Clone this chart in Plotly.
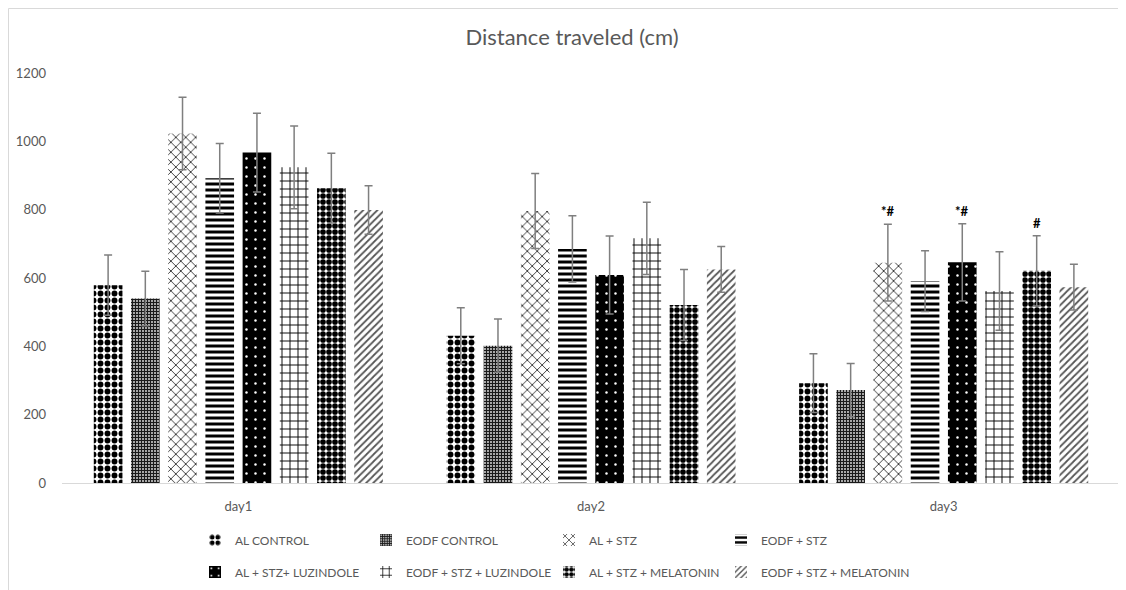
import plotly.graph_objects as go

days = ["day1", "day2", "day3"]
groups = ["AL CONTROL", "EODF CONTROL", "AL + STZ", "EODF + STZ",
          "AL + STZ+ LUZINDOLE", "EODF + STZ + LUZINDOLE",
          "AL + STZ + MELATONIN", "EODF + STZ + MELATONIN"]

al_control = [579, 431, 292]
eodf_control = [540, 402, 272]
al_stz = [1023, 796, 645]
eodf_stz = [892, 685, 591]
al_stz_luz = [967, 609, 646]
eodf_stz_luz = [924, 716, 562]
al_stz_mel = [863, 521, 621]
eodf_stz_mel = [799, 625, 573]

sd_al_control = [88, 82, 86]
sd_eodf_control = [80, 78, 78]
sd_al_stz = [106, 110, 112]
sd_eodf_stz = [102, 97, 89]
sd_al_stz_luz = [115, 114, 113]
sd_eodf_stz_luz = [121, 106, 115]
sd_al_stz_mel = [102, 104, 103]
sd_eodf_stz_mel = [71, 67, 67]

sig_marks = ["", "", "*#", "", "*#", "", "#", ""]  # day3 only

means = [al_control, eodf_control, al_stz, eodf_stz,
         al_stz_luz, eodf_stz_luz, al_stz_mel, eodf_stz_mel]
sds = [sd_al_control, sd_eodf_control, sd_al_stz, sd_eodf_stz,
       sd_al_stz_luz, sd_eodf_stz_luz, sd_al_stz_mel, sd_eodf_stz_mel]

patterns = [
    dict(shape=".", bgcolor="white", fgcolor="black", size=7, solidity=0.55),
    dict(shape="+", bgcolor="white", fgcolor="#1a1a1a", size=3, solidity=0.7),
    dict(shape="x", bgcolor="white", fgcolor="black", size=7, solidity=0.2),
    dict(shape="-", bgcolor="white", fgcolor="black", size=6, solidity=0.5),
    dict(shape=".", bgcolor="black", fgcolor="white", size=9, solidity=0.06),
    dict(shape="+", bgcolor="white", fgcolor="black", size=8, solidity=0.22),
    dict(shape=".", bgcolor="white", fgcolor="black", size=6, solidity=0.7),
    dict(shape="/", bgcolor="white", fgcolor="#555555", size=5, solidity=0.35),
]

# legend layout: text start (page px) per column, row centres
leg_cols = [234, 405, 588, 760]
leg_rows = [540, 572]

bargap = 0.156
bargroupgap = 0.23
FONT = "Lato, 'Liberation Sans', sans-serif"
GRAY = "#595959"

OFF = 8  # page body margin
W, H = 1126 - OFF, 590 - OFF
ml, mr, mt, mb = 62 - OFF, 6, 73 - OFF, H - (483 - OFF)
pw = W - ml - mr
ph = H - mt - mb

fig = go.Figure()
legends = {}
for i, (name, m, s, p) in enumerate(zip(groups, means, sds, patterns)):
    key = "legend" if i == 0 else "legend%d" % (i + 1)
    fig.add_trace(go.Bar(
        x=days, y=m, name=name,
        marker=dict(color=p["bgcolor"], pattern=dict(fillmode="replace", **p),
                    line=dict(width=0)),
        error_y=dict(type="data", array=s, visible=True, color="#7f7f7f",
                     thickness=1.5, width=4),
        legend=key, showlegend=True,
    ))
    col, row = i % 4, i // 4
    lx = leg_cols[col] - 39 - OFF
    ly = leg_rows[row] - OFF
    legends[key] = dict(
        orientation="v", xref="container", yref="container",
        x=lx / W, y=1 - ly / H, xanchor="left", yanchor="middle",
        font=dict(family=FONT, size=12, color=GRAY),
        itemwidth=30, bgcolor="rgba(0,0,0,0)")

# significance marks above day3 bars
n = len(groups)
slot = (1 - bargap) / n
annotations = []
for i, mark in enumerate(sig_marks):
    if mark:
        xpos = 2 - (1 - bargap) / 2 + (i + 0.5) * slot
        annotations.append(dict(
            x=xpos, y=means[i][2] + sds[i][2], xref="x", yref="y",
            text="<b>" + mark + "</b>", showarrow=False, yanchor="bottom",
            yshift=3, font=dict(family=FONT, size=13, color="black")))


def px_x(px):
    return (px - ml) / pw


def px_y(py):
    return (H - mb - py) / ph


shapes = [dict(type="rect", xref="paper", yref="paper",
               x0=px_x(0.5), x1=px_x(1300), y0=px_y(700), y1=px_y(0.5),
               line=dict(color="#d9d9d9", width=1), fillcolor="rgba(0,0,0,0)",
               layer="below")]

fig.update_layout(
    width=W, height=H,
    margin=dict(l=ml, r=mr, t=mt, b=mb, autoexpand=False),
    paper_bgcolor="white", plot_bgcolor="white",
    barmode="group", bargap=bargap, bargroupgap=bargroupgap,
    title=dict(text="Distance traveled (cm)", x=(572 - OFF) / W, xref="container",
               xanchor="center", y=1 - (37 - OFF) / H, yref="container",
               yanchor="middle", font=dict(family=FONT, size=22, color=GRAY)),
    font=dict(family=FONT, size=13, color=GRAY),
    xaxis=dict(showgrid=False, showline=True, linecolor="#d9d9d9", linewidth=1,
               ticks="", tickfont=dict(family=FONT, size=13, color=GRAY),
               ticklabelstandoff=11, range=[-0.5, 2.5]),
    yaxis=dict(range=[0, 1200], dtick=200, showgrid=False, zeroline=False,
               showline=False, ticks="", tickfont=dict(family=FONT, size=13, color=GRAY),
               ticklabelstandoff=15),
    annotations=annotations,
    shapes=shapes,
    **legends,
)

fig.write_html("out.html")
